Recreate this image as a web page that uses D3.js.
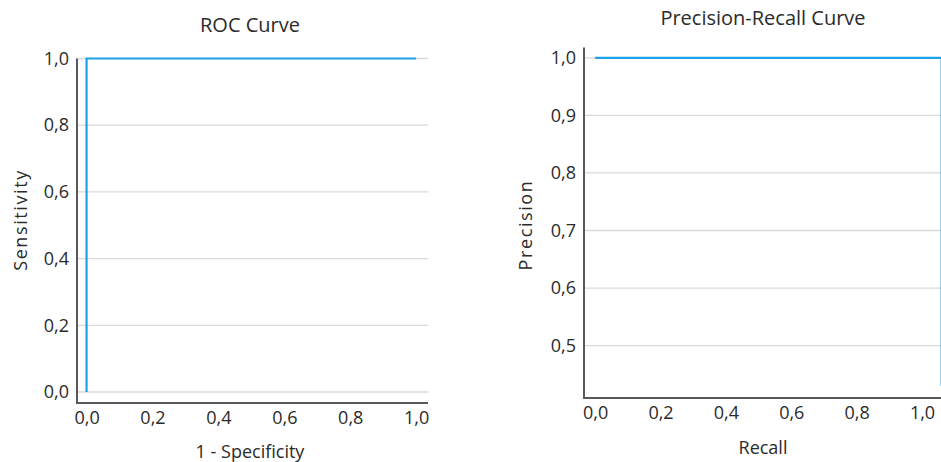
<!DOCTYPE html>
<html>
<head>
<meta charset="utf-8">
<script src="https://cdn.jsdelivr.net/npm/d3@7"></script>
<style>
  body { margin: 0; background: #fff; }
  text { font-family: "Open Sans", sans-serif; fill: #2b2b2b; }
  .grid line { stroke: #d9d9d9; stroke-width: 1.3; }
  .axis path, .axis line { stroke: none; }
</style>
</head>
<body>
<div id="chart"></div>
<script>
// ROC data (1 - specificity vs sensitivity)
var rocFpr = [0, 0, 1];
var rocTpr = [0, 1, 1];
var rocTicks = [0, 0.2, 0.4, 0.6, 0.8, 1.0];

// Precision-recall data
var prRecall = [0, 1.06, 1.06];
var prPrecision = [1, 1, 0.43];
var prXTicks = [0, 0.2, 0.4, 0.6, 0.8, 1.0];
var prYTicks = [0.5, 0.6, 0.7, 0.8, 0.9, 1.0];

var curveColor = "#1aa3e8";
var fmt = function (d) { return d3.format(".1f")(d).replace(".", ","); };

var svg = d3.select("#chart").append("svg").attr("width", 941).attr("height", 462);

function panel(opt) {
    var x = d3.scaleLinear().domain(opt.xDomain).range([opt.left, opt.right]);
    var y = d3.scaleLinear().domain(opt.yDomain).range([opt.bottom, opt.top]);
    var g = svg.append("g");

    //grid lines
    g.append("g").attr("class", "grid")
        .selectAll("line").data(opt.yTicks).enter().append("line")
        .attr("x1", opt.left).attr("x2", opt.right)
        .attr("y1", function (d) { return y(d); })
        .attr("y2", function (d) { return y(d); });

    //y axis labels
    g.append("g").attr("class", "axis")
        .attr("transform", "translate(" + opt.left + ",0)")
        .call(d3.axisLeft(y).tickValues(opt.yTicks).tickFormat(fmt).tickSize(0).tickPadding(8))
        .selectAll("text").style("font-size", "18px").attr("fill", "#2b2b2b");

    //x axis labels
    g.append("g").attr("class", "axis")
        .attr("transform", "translate(0," + opt.bottom + ")")
        .call(d3.axisBottom(x).tickValues(opt.xTicks).tickFormat(fmt).tickSize(0).tickPadding(8))
        .selectAll("text").style("font-size", "18px").attr("fill", "#2b2b2b");

    //curve
    var pts = opt.xs.map(function (v, i) { return [v, opt.ys[i]]; });
    g.append("path")
        .attr("d", d3.line().x(function (d) { return x(d[0]); }).y(function (d) { return y(d[1]); })(pts))
        .attr("fill", "none")
        .attr("stroke", curveColor)
        .attr("stroke-width", 2.2);

    //axis lines
    g.append("line").attr("x1", opt.left).attr("x2", opt.left)
        .attr("y1", opt.top).attr("y2", opt.bottom + 1)
        .attr("stroke", "#595959").attr("stroke-width", 2);
    g.append("line").attr("x1", opt.left - 1).attr("x2", opt.right)
        .attr("y1", opt.bottom).attr("y2", opt.bottom)
        .attr("stroke", "#595959").attr("stroke-width", 2);

    //titles
    g.append("text").attr("x", opt.titleX).attr("y", opt.titleY)
        .attr("text-anchor", "middle").style("font-size", "20px").text(opt.title);
    g.append("text").attr("x", opt.titleX).attr("y", opt.xLabelY)
        .attr("text-anchor", "middle").style("font-size", "18px").text(opt.xLabel);
    g.append("text")
        .attr("transform", "translate(" + opt.yLabelX + "," + opt.yLabelY + ") rotate(-90)")
        .attr("text-anchor", "middle").style("font-size", "18px")
        .style("letter-spacing", "1.6px").text(opt.yLabel);
}

panel({
    xs: rocFpr, ys: rocTpr, xTicks: rocTicks, yTicks: rocTicks,
    xDomain: [-0.029, 1.036], yDomain: [-0.033, 1.0],
    left: 77, right: 428, top: 58.5, bottom: 403,
    title: "ROC Curve", titleX: 250, titleY: 32,
    xLabel: "1 - Specificity", xLabelY: 458,
    yLabel: "Sensitivity", yLabelX: 27, yLabelY: 220
});

panel({
    xs: prRecall, ys: prPrecision, xTicks: prXTicks, yTicks: prYTicks,
    xDomain: [-0.034, 1.058], yDomain: [0.409, 1.018],
    left: 584, right: 941, top: 47.5, bottom: 398,
    title: "Precision-Recall Curve", titleX: 763, titleY: 25,
    xLabel: "Recall", xLabelY: 454,
    yLabel: "Precision", yLabelX: 532, yLabelY: 225
});
</script>
</body>
</html>
